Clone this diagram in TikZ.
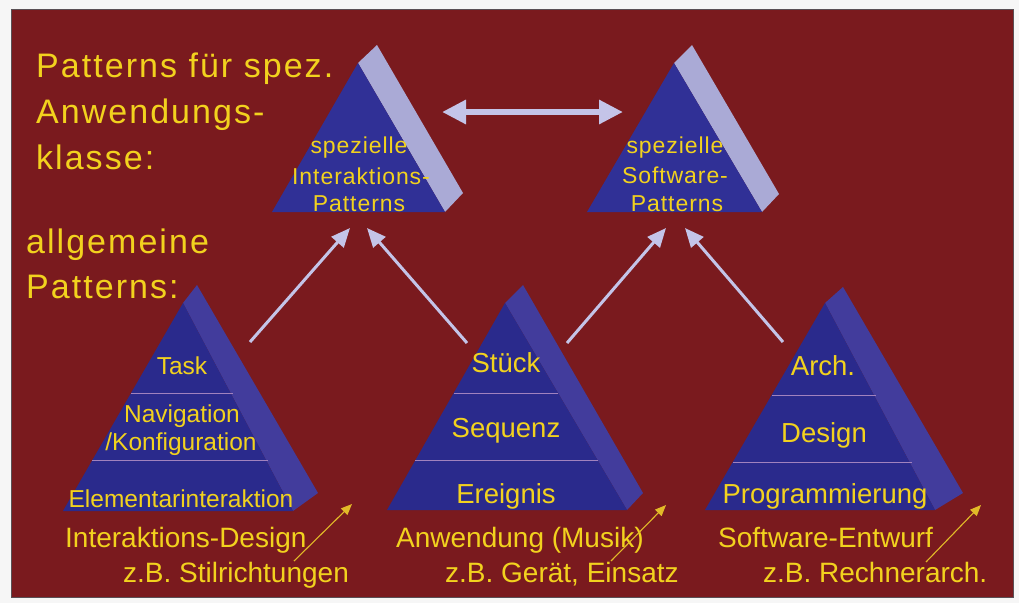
\documentclass[tikz,border=0pt]{standalone}
\usepackage{fontspec}
\setmainfont{Liberation Sans}
\usetikzlibrary{arrows.meta}

\definecolor{paper}{RGB}{246,246,246}
\definecolor{slide}{RGB}{122,26,30}
\definecolor{slideedge}{RGB}{90,80,85}
\definecolor{front}{RGB}{42,42,140}
\definecolor{frontlight}{RGB}{48,48,150}
\definecolor{sidelight}{RGB}{170,170,214}
\definecolor{sidedark}{RGB}{66,60,156}
\definecolor{layerline}{RGB}{160,130,190}
\definecolor{arrowgray}{RGB}{196,196,232}
\definecolor{gold}{RGB}{242,210,30}
\definecolor{goldline}{RGB}{226,186,40}

\tikzset{
  bigtext/.style={text=gold, inner sep=0pt, anchor=base west,
    font=\fontsize{34}{38}\selectfont\addfontfeature{LetterSpace=6}},
  toptext/.style={text=gold, inner sep=0pt, anchor=base,
    font=\fontsize{23}{26}\selectfont\addfontfeature{LetterSpace=4}},
  tiertext/.style={text=gold, inner sep=0pt, anchor=base,
    font=\fontsize{24.5}{28}\selectfont},
  tiertextwide/.style={text=gold, inner sep=0pt, anchor=base,
    font=\fontsize{27.5}{30}\selectfont},
  captext/.style={text=gold, inner sep=0pt, anchor=base west,
    font=\fontsize{28}{32}\selectfont},
  frontface/.style={fill=front},
  topfront/.style={fill=frontlight},
  topside/.style={fill=sidelight},
  lowside/.style={fill=sidedark},
  tierline/.style={draw=layerline, line width=0.8pt},
  linkarrow/.style={draw=arrowgray, line width=3pt,
    -{Triangle[length=19pt,width=16pt]}},
  pairarrow/.style={draw=arrowgray, line width=6pt,
    {Triangle[length=24pt,width=23pt]}-{Triangle[length=24pt,width=23pt]}},
  notearrow/.style={draw=goldline, line width=1.1pt,
    -{Triangle[length=11pt,width=9pt]}},
}

\begin{document}
\begin{tikzpicture}[x=1pt,y=-1pt]
\useasboundingbox (0,0) rectangle (1019,603);
\fill[paper] (0,0) rectangle (1019,603);
\fill[slide] (11,9) rectangle (1013,597);
\draw[slideedge, line width=0.8pt] (11,9) rectangle (1013,597);

% --- upper pyramids (special patterns) ---
\fill[topside]  (358,63) -- (377,45) -- (463,193) -- (445,212) -- cycle;
\fill[topfront] (358,63) -- (272,212) -- (445,212) -- cycle;
\fill[topside]  (674,63) -- (692,45) -- (779,194) -- (762,212) -- cycle;
\fill[topfront] (674,63) -- (587,212) -- (762,212) -- cycle;

\node[toptext] (ia1) at (359,153) {spezielle};
\node[toptext] (ia2) at (361,184) {Interaktions-};
\node[toptext] (ia3) at (359,211) {Patterns};
\node[toptext] (sw1) at (675,153) {spezielle};
\node[toptext] (sw2) at (675,183) {Software-};
\node[toptext] (sw3) at (677,211) {Patterns};

% --- lower pyramids (general patterns) ---
\fill[lowside]   (183,303) -- (197,285) -- (318,493) -- (293,511) -- cycle;
\fill[frontface] (183,303) -- (63,511) -- (293,511) -- cycle;
\draw[tierline] (131,393) -- (233,393);
\draw[tierline] (92,460) -- (268,460);

\fill[lowside]   (505,303) -- (523,285) -- (643,493) -- (627,510) -- cycle;
\fill[frontface] (505,303) -- (387,510) -- (627,510) -- cycle;
\draw[tierline] (454,393) -- (558,393);
\draw[tierline] (415,460) -- (598,460);

\fill[lowside]   (825,303) -- (843,287) -- (963,493) -- (935,510) -- cycle;
\fill[frontface] (825,303) -- (705,510) -- (935,510) -- cycle;
\draw[tierline] (772,395) -- (876,395);
\draw[tierline] (733,462) -- (912,462);

\node[tiertext] (task) at (182,374) {Task};
\node[tiertext] (nav)  at (182,422) {Navigation};
\node[tiertext] (konf) at (181,450) {/Konfiguration};
\node[tiertext] (elem) at (181,507) {Elementarinteraktion};

\node[tiertextwide] (stueck)  at (506,372) {Stück};
\node[tiertextwide] (sequenz) at (506,437) {Sequenz};
\node[tiertextwide] (ereig)   at (506,503) {Ereignis};

\node[tiertextwide] (arch)   at (823,375) {Arch.};
\node[tiertextwide] (design) at (824,442) {Design};
\node[tiertextwide] (progr)  at (825,503) {Programmierung};

% --- side headings ---
\node[bigtext] (h1) at (36,77)  {Patterns für spez.};
\node[bigtext] (h2) at (36,123) {Anwendungs-};
\node[bigtext] (h3) at (36,169) {klasse:};
\node[bigtext] (h4) at (26,253) {allgemeine};
\node[bigtext] (h5) at (26,298) {Patterns:};

% --- captions below the pyramids ---
\node[captext] (c1) at (65,547)  {Interaktions-Design};
\node[captext] (c2) at (123,582) {z.B. Stilrichtungen};
\node[captext] (c3) at (396,547) {Anwendung (Musik)};
\node[captext] (c4) at (445,582) {z.B. Gerät, Einsatz};
\node[captext] (c5) at (718,547) {Software-Entwurf};
\node[captext] (c6) at (763,582) {z.B. Rechnerarch.};

% --- connector end points ---
\coordinate (pairL) at (442,112);
\coordinate (pairR) at (623,112);
\coordinate (l1s) at (250,342); \coordinate (l1e) at (350,228);
\coordinate (l2s) at (467,343); \coordinate (l2e) at (367,228);
\coordinate (l3s) at (567,343); \coordinate (l3e) at (666,228);
\coordinate (l4s) at (783,342); \coordinate (l4e) at (685,228);
\coordinate (n1s) at (294,561); \coordinate (n1e) at (352,504);
\coordinate (n2s) at (611,561); \coordinate (n2e) at (666,505);
\coordinate (n3s) at (926,562); \coordinate (n3e) at (981,505);

\draw[pairarrow] (pairL) -- (pairR);
\draw[linkarrow] (l1s) -- (l1e);
\draw[linkarrow] (l2s) -- (l2e);
\draw[linkarrow] (l3s) -- (l3e);
\draw[linkarrow] (l4s) -- (l4e);
\draw[notearrow] (n1s) -- (n1e);
\draw[notearrow] (n2s) -- (n2e);
\draw[notearrow] (n3s) -- (n3e);
\end{tikzpicture}
\end{document}
